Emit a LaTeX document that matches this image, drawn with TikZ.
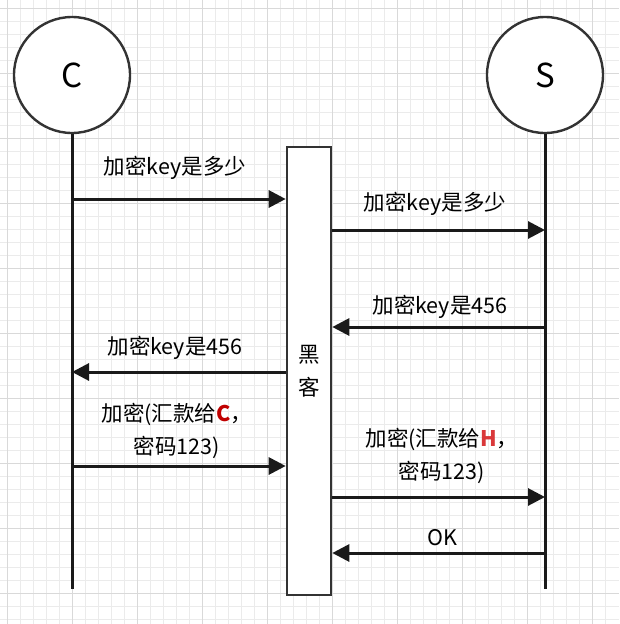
\documentclass[tikz,border=0pt]{standalone}
\usepackage{fontspec}
\setmainfont{Noto Sans CJK SC}
\usepackage{xcolor}
\usetikzlibrary{arrows.meta,positioning}
\definecolor{gridminor}{HTML}{EBEBEB}
\definecolor{gridmajor}{HTML}{D9D9D9}
\definecolor{ink}{HTML}{1A1A1A}
\definecolor{edge}{HTML}{333333}
\definecolor{redC}{HTML}{C00000}
\definecolor{redH}{HTML}{D9383A}

\tikzset{
  party/.style={circle,draw=edge,line width=2.4pt,fill=white,minimum size=116pt,inner sep=0pt,font=\fontsize{33}{38}\selectfont},
  life/.style={ink,line width=3pt},
  msg/.style={ink,line width=3pt,-{Triangle[length=17pt,width=17pt]}},
  lbl/.style={font=\fontsize{21.5}{33}\selectfont,align=center,inner sep=0pt},
  hackbox/.style={draw=edge,line width=2.6pt,fill=white,minimum width=44pt,minimum height=448pt,inner sep=0pt,align=center,font=\fontsize{21.5}{33}\selectfont}
}

\begin{document}
\begin{tikzpicture}[x=1pt,y=-1pt]
  \useasboundingbox (0,0) rectangle (619,624);
  % background grid
  \foreach \i in {0,...,47}
    \draw[gridminor,line width=0.8pt] (7.5+13*\i-13,0) -- (7.5+13*\i-13,624);
  \foreach \i in {0,...,48}
    \draw[gridminor,line width=0.8pt] (0,8+13*\i-13) -- (619,8+13*\i-13);
  \foreach \i in {0,...,9}
    \draw[gridmajor,line width=0.8pt] (7.5+65*\i,0) -- (7.5+65*\i,624);
  \foreach \i in {0,...,9}
    \draw[gridmajor,line width=0.8pt] (0,8+65*\i) -- (619,8+65*\i);

  % parties
  \node[party] (C) at (72,75) {C};
  \node[party] (S) at (545,75) {S};
  \coordinate (Cend) at (72,589);
  \coordinate (Send) at (545,589);
  \draw[life] (C.south) -- (Cend);
  \draw[life] (S.south) -- (Send);

  % hacker in the middle
  \node[hackbox] (H) at (309,371) {黑\\客};

  % messages
  \coordinate (c1) at (72,199);
  \coordinate (s2) at (545,230);
  \coordinate (s3) at (545,327);
  \coordinate (c4) at (72,372);
  \coordinate (c5) at (72,466);
  \coordinate (s6) at (545,497);
  \coordinate (s7) at (545,553);

  \draw[msg] (c1) -- (c1 -| H.west);
  \draw[msg] (s2 -| H.east) -- (s2);
  \draw[msg] (s3) -- (s3 -| H.east);
  \draw[msg] (c4 -| H.west) -- (c4);
  \draw[msg] (c5) -- (c5 -| H.west);
  \draw[msg] (s6 -| H.east) -- (s6);
  \draw[msg] (s7) -- (s7 -| H.east);

  % labels
  \node[lbl] (l1) at (175,168) {加密key是多少};
  \node[lbl] (l2) at (435,204) {加密key是多少};
  \node[lbl] (l3) at (440,307) {加密key是456};
  \node[lbl] (l4) at (175,348) {加密key是456};
  \node[lbl] (l5) at (177,431) {加密(汇款给{\bfseries\color{redC}C}，\\密码123)};
  \node[lbl] (l6) at (442,456) {加密(汇款给{\bfseries\color{redH}H}，\\密码123)};
  \node[lbl] (l7) at (442,538) {OK};
\end{tikzpicture}
\end{document}
